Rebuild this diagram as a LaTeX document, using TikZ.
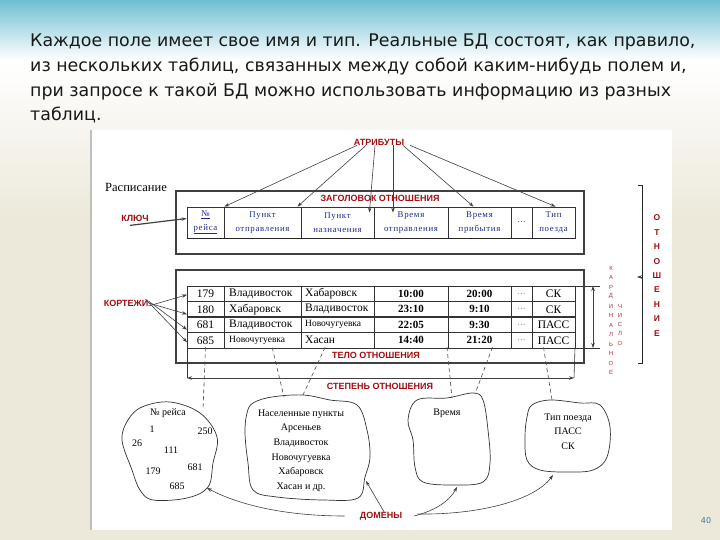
\documentclass[tikz,border=0pt]{standalone}
\usepackage{fontspec}
\setmainfont{Liberation Serif}
\newfontfamily\slidefont{DejaVu Sans}
\newfontfamily\tabfont{Liberation Serif}
\newfontfamily\hdrfont[LetterSpace=8]{Liberation Serif}
\newfontfamily\redfont{Liberation Sans}
\usetikzlibrary{arrows.meta}
\definecolor{slideteal}{HTML}{6EBFD3}
\definecolor{slidebeige}{HTML}{ECE8DA}
\definecolor{lblred}{HTML}{A00E12}
\definecolor{hdrblue}{HTML}{1E2A8A}
\definecolor{pagenum}{HTML}{3C7AA8}

\begin{document}
\begin{tikzpicture}[x=1pt, y=-1pt,
    slidetext/.style ={anchor=base west, inner sep=0, text=black!90, font=\slidefont\fontsize{17.4}{19}\selectfont},
    redlabel/.style ={text=lblred, inner sep=0, font=\redfont\bfseries\fontsize{9}{10}\selectfont},
    vletter/.style ={text=lblred!85, inner sep=0, font=\redfont\fontsize{6}{6}\selectfont},
    bigletter/.style ={text=lblred, inner sep=0, font=\redfont\bfseries\fontsize{8.5}{9}\selectfont},
    hdr/.style ={draw=black!80, line width=0.8pt, minimum height=31pt, inner sep=0, align=center,
                 text=hdrblue, font=\hdrfont\fontsize{8.8}{13.5}\selectfont},
    cell/.style ={inner sep=0, font=\tabfont\fontsize{11.5}{12}\selectfont},
    timecell/.style ={cell, font=\tabfont\bfseries\fontsize{11}{12}\selectfont},
    domtext/.style ={inner sep=0, align=center, font=\tabfont\fontsize{10}{14.6}\selectfont},
    box/.style ={draw=black!75, line width=2.2pt},
    grid/.style ={draw=black!80, line width=0.8pt},
    pointer/.style ={draw=black!75, line width=0.6pt, -{Stealth[length=5pt,width=3.5pt]}},
    domlink/.style ={draw=black!70, line width=0.6pt, dash pattern=on 4pt off 3pt},
    cloud/.style ={draw=black!80, line width=0.7pt}]

   \useasboundingbox (0,0) rectangle (720,540);

   % slide background
   \fill[slidebeige] (0,0) rectangle (720,540);
   \shade[top color=slideteal, bottom color=white] (0,0) rectangle (720,60);
   \shade[top color=white, bottom color=slidebeige] (0,60) rectangle (720,220);
   \fill[white] (92,130) rectangle (672,530);
   \draw[black!25, line width=1.5pt] (91,130) -- (91,530);

   \node[slidetext] (line1) at (30,47)  {Каждое поле имеет свое имя и тип. Реальные БД состоят, как правило,};
   \node[slidetext] (line2) at (30,72)  {из нескольких таблиц, связанных между собой каким-нибудь полем и,};
   \node[slidetext] (line3) at (30,97)  {при запросе к такой БД можно использовать информацию из разных};
   \node[slidetext] (line4) at (30,121) {таблиц.};
   \node[text=pagenum, font=\slidefont\fontsize{8}{8}\selectfont] (page) at (706,521) {40};

   % header of the relation
   \node[font=\tabfont\fontsize{12.5}{13}\selectfont, inner sep=0] (sched) at (136,187) {Расписание};
   \draw[box] (176,191) rectangle (584,254);
   \node[redlabel] (head) at (380,198) {ЗАГОЛОВОК ОТНОШЕНИЯ};

   \node[hdr, minimum width=37pt] (h1) at (205.5,222.5) {\underline{№}\\\underline{рейса}};
   \node[hdr, minimum width=77pt] (h2) at (262.5,222.5) {Пункт\\отправления};
   \node[hdr, minimum width=73pt] (h3) at (337.5,222.5) {Пункт\\назначения};
   \node[hdr, minimum width=74pt] (h4) at (411,222.5)   {Время\\отправления};
   \node[hdr, minimum width=63pt] (h5) at (479.5,222.5) {Время\\прибытия};
   \node[hdr, minimum width=21pt] (h6) at (521.5,222.5) {...};
   \node[hdr, minimum width=43pt] (h7) at (553.5,222.5) {Тип\\поезда};
   \draw[black!85, line width=1.6pt] (h1.south west) -- (h7.south east);

   % body of the relation
   \draw[box] (176,270) rectangle (584,363);
   \draw[grid] (187,286) rectangle (575,348);
   \foreach \x in {224,301,374,448,511,532}
      \draw[grid] (\x,286) -- (\x,348);
   \foreach \y in {301.5,317,332.5}
      \draw[grid, line width=1.2pt] (187,\y) -- (575,\y);

   \foreach \n/\a/\b/\c/\d/\s [count=\j] in
      {179/Владивосток/Хабаровск/10:00/20:00/СК,
       180/Хабаровск/Владивосток/23:10/9:10/СК,
       681/Владивосток/{\fontsize{9.5}{9}\selectfont Новочугуевка}/22:05/9:30/ПАСС,
       685/{\fontsize{9.5}{9}\selectfont Новочугуевка}/Хасан/14:40/21:20/ПАСС}
   {
      \node[cell] (num\j) at (205.5,{278.25+15.5*\j}) {\n};
      \node[cell, anchor=west] (dep\j) at (229,{278.25+15.5*\j}) {\a};
      \node[cell, anchor=west] (arr\j) at (305,{278.25+15.5*\j}) {\b};
      \node[timecell] (tdep\j) at (411,{278.25+15.5*\j}) {\c};
      \node[timecell] (tarr\j) at (479.5,{278.25+15.5*\j}) {\d};
      \node[cell, text=black!35] (dots\j) at (521.5,{278.25+15.5*\j}) {...};
      \node[cell] (kind\j) at (553.5,{278.25+15.5*\j}) {\s};
      \coordinate (row\j) at (187,{278.25+15.5*\j});
   }
   \node[redlabel] (body) at (376,355) {ТЕЛО ОТНОШЕНИЯ};

   % degree and cardinality
   \coordinate (degL) at (187,378);
   \coordinate (degR) at (574,378);
   \draw[grid, line width=0.6pt] (187,348) -- (degL);
   \draw[grid, line width=0.6pt] (575,348) -- (degR);
   \draw[pointer, {Stealth[length=5pt,width=3.5pt]}-{Stealth[length=5pt,width=3.5pt]}] (degL) -- (degR);
   \node[redlabel] (degree) at (380,386) {СТЕПЕНЬ ОТНОШЕНИЯ};

   \coordinate (cardT) at (593,286);
   \coordinate (cardB) at (593,348);
   \draw[grid, line width=0.6pt] (575,286) -- (600,286);
   \draw[grid, line width=0.6pt] (575,348) -- (600,348);
   \draw[pointer, {Stealth[length=5pt,width=3.5pt]}-{Stealth[length=5pt,width=3.5pt]}] (cardT) -- (cardB);
   \foreach \l [count=\i] in {К,А,Р,Д,И,Н,А,Л,Ь,Н,О,Е}
      \node[vletter] (kard\i) at (611,{268+9.5*(\i-1)}) {\l};
   \foreach \l [count=\i] in {Ч,И,С,Л,О}
      \node[vletter] (chis\i) at (620,{306+9.3*(\i-1)}) {\l};

   % the relation as a whole
   \draw[black!85, line width=0.8pt] (638,185) -- (642,185) -- (642,363) -- (638,363);
   \draw[pointer] (642,277) -- (637,277);
   \foreach \l [count=\i] in {О,Т,Н,О,Ш,Е,Н,И,Е}
      \node[bigletter] (rel\i) at (657,{218+14.4*(\i-1)}) {\l};

   % attributes
   \node[redlabel] (attr) at (379,142) {АТРИБУТЫ};
   \draw[pointer] ([xshift=-22pt]attr.south) -- (h1.north east);
   \draw[pointer] ([xshift=-13pt]attr.south) -- ([xshift=-4pt]h2.north east);
   \draw[pointer] ([xshift=-4pt]attr.south) -- ([xshift=-5pt,yshift=-6pt]h3.north east);
   \draw[pointer] ([xshift=14pt]attr.south) -- ([xshift=-18pt,yshift=-6pt]h4.north);
   \draw[pointer] ([xshift=24pt]attr.south) -- ([xshift=-6pt]h5.north);
   \draw[pointer] ([xshift=31pt]attr.south) -- ([xshift=2pt]h7.north);

   % key
   \node[redlabel] (key) at (135,218) {КЛЮЧ};
   \draw[pointer, line width=1.2pt] ([xshift=-5pt,yshift=-4pt]key.south) -- ([yshift=4pt]h1.west);

   % tuples
   \node[redlabel] (tuples) at (126,303) {КОРТЕЖИ};
   \draw[pointer] ([yshift=-3pt]tuples.east) -- ([yshift=-1pt]row1);
   \draw[pointer] ([yshift=0pt]tuples.east) -- ([yshift=-5pt]row2);
   \draw[pointer] ([yshift=2pt]tuples.east) -- ([yshift=-5pt]row3);
   \draw[pointer] ([xshift=-3pt,yshift=4pt]tuples.east) -- ([yshift=-2pt]row4);

   % domains
   \draw[cloud] plot[smooth cycle, tension=0.6] coordinates {(142,407) (170,402) (200,413) (217,437) (213,463)
      (208,487) (187,498) (153,500) (140,490) (132,470) (122,440) (128,420)};
   \draw[cloud] plot[smooth cycle, tension=0.6] coordinates {(253,403) (272,397) (303,395) (330,400) (357,405)
      (367,430) (370,457) (365,477) (358,498) (323,500) (277,497) (253,490) (248,463) (245,433) (247,413)};
   \draw[cloud] plot[smooth cycle, tension=0.6] coordinates {(417,400) (447,398) (473,393) (483,400) (488,430)
      (490,463) (483,482) (453,485) (423,482) (415,467) (413,440) (408,420)};
   \draw[cloud] plot[smooth cycle, tension=0.6] coordinates {(532,405) (550,400) (580,403) (600,405) (610,427)
      (607,457) (593,470) (567,472) (540,470) (527,460) (525,437) (527,417)};

   \node[domtext] (dflight) at (168,413) {№ рейса};
   \node[domtext] (v1) at (152,429) {1};
   \node[domtext] (v250) at (205,431) {250};
   \node[domtext] (v26) at (137,443) {26};
   \node[domtext] (v111) at (171,450) {111};
   \node[domtext] (v681) at (195,467) {681};
   \node[domtext] (v179) at (153,471) {179};
   \node[domtext] (v685) at (177,486) {685};
   \node[domtext] (dplace) at (301,450.5) {Населенные пункты\\Арсеньев\\Владивосток\\Новочугуевка\\Хабаровск\\Хасан и др.};
   \node[domtext] (dtime) at (447,413) {Время};
   \node[domtext] (dkind) at (568,431.5) {Тип поезда\\ПАСС\\СК};

   \coordinate (in1) at (203,410);
   \coordinate (in2a) at (284,397);
   \coordinate (in2b) at (303,395);
   \coordinate (in3a) at (452,398);
   \coordinate (in3b) at (475,394);
   \coordinate (in4) at (552,400);
   \draw[domlink] ([yshift=-3pt]num4.south) -- (in1);
   \draw[domlink] ([xshift=15pt,yshift=-3pt]dep4.south) -- (in2a);
   \draw[domlink] ([xshift=5pt,yshift=-3pt]arr4.south) -- (in2b);
   \draw[domlink] ([xshift=36pt,yshift=-3pt]tdep4.south) -- (in3a);
   \draw[domlink] ([xshift=13pt,yshift=-3pt]tarr4.south) -- (in3b);
   \draw[domlink] ([xshift=-10pt,yshift=-3pt]kind4.south) -- (in4);

   \node[redlabel] (dom) at (381,516) {ДОМЕНЫ};
   \coordinate (out1) at (207,488);
   \coordinate (out2) at (366,481);
   \coordinate (out3) at (457,487);
   \coordinate (out4) at (553,475);
   \draw[pointer] ([xshift=-15pt]dom.west) .. controls (280,516) and (235,503) .. (out1);
   \draw[pointer] ([xshift=3pt]dom.north) -- (out2);
   \draw[pointer] ([xshift=12pt]dom.east) .. controls (437,510) and (450,500) .. (out3);
   \draw[pointer] ([xshift=15pt,yshift=2pt]dom.east) .. controls (480,515) and (535,500) .. (out4);
\end{tikzpicture}
\end{document}
